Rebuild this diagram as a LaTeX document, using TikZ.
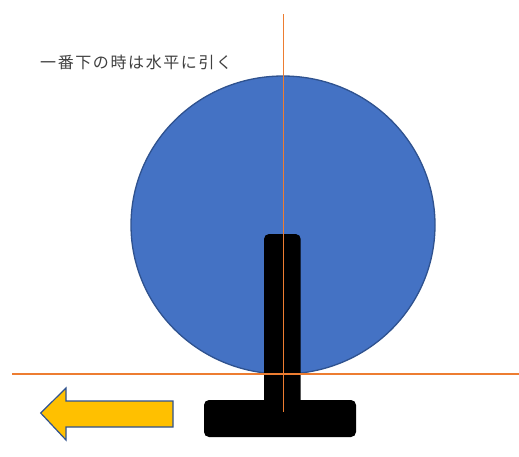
\documentclass[tikz,border=0pt]{standalone}
\usepackage{fontspec}
\usepackage{xcolor}
\usepackage{tikz}
\usetikzlibrary{shapes.geometric, positioning, calc}
\newfontfamily\jpfont[LetterSpace=10]{Noto Sans CJK JP}
\definecolor{wheelblue}{HTML}{4472C4}
\definecolor{wheeledge}{HTML}{2F528F}
\definecolor{guideorange}{HTML}{ED7D31}
\definecolor{arrowgold}{HTML}{FFC000}
\definecolor{notegray}{HTML}{404040}

\begin{document}
\begin{tikzpicture}[
				x=1pt, y=-1pt,
				% Defining styles
				wheel/.style={ellipse, draw=wheeledge, line width=1.3pt, fill=wheelblue, minimum width=304pt, minimum height=298pt, inner sep=0pt},
				bar/.style={fill=black, draw=none},
				guide/.style={draw=guideorange, line width=1.2pt},
				pull/.style={fill=arrowgold, draw=wheeledge, line width=1.2pt, line join=miter},
				note/.style={font=\jpfont\fontsize{16}{18}\selectfont, text=notegray, inner sep=0pt, anchor=west}
			]
			\useasboundingbox (0,0) rectangle (519,456);

			% Wheel
			\node[wheel] (W) at (283,225) {};

			% Stem and base of the T
			\fill[bar, rounded corners=5pt] (264,410) |- (300.7,234) -- (300.7,410) -- cycle;
			\fill[bar, rounded corners=5pt] (204,400) rectangle (356,437);

			% Guide lines
			\coordinate (htop) at (12,374);
			\coordinate (hend) at (519,374);
			\coordinate (vtop) at (283.3,14);
			\coordinate (vend) at (283.3,412);
			\draw[guide] (htop) -- (hend);
			\draw[guide, line width=1.6pt] (vtop) -- (vend);

			% Pulling arrow
			\draw[pull] (40.7,413) -- (66,388) -- (66,401) -- (173,401) -- (173,427) -- (66,427) -- (66,440) -- cycle;

			% Note
			\node[note] (N) at (40,62) {一番下の時は水平に引く};

		\end{tikzpicture}
\end{document}
